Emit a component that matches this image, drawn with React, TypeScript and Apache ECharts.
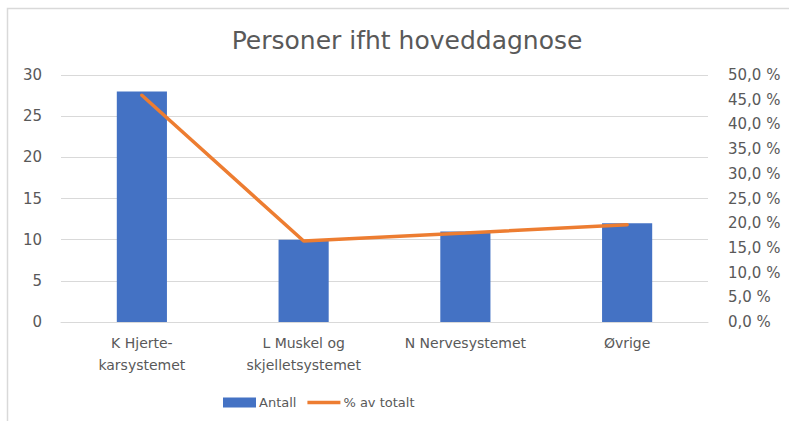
import React, { useEffect, useRef } from "react";
import * as echarts from "echarts";

const categories = ["K Hjerte-\nkarsystemet", "L Muskel og\nskjelletsystemet", "N Nervesystemet", "Øvrige"];
const antall = [28, 10, 11, 12];
const prosent = [45.9, 16.4, 18.0, 19.7];
const leftTicks = { min: 0, max: 30, interval: 5 };
const rightTicks = { min: 0, max: 50, interval: 5 };

export default function App() {
  const ref = useRef<HTMLDivElement>(null);
  useEffect(() => {
    const chart = echarts.init(ref.current!, null, { renderer: "svg" });
    const font = "'DejaVu Sans', sans-serif";
    chart.setOption({
      animation: false,
      backgroundColor: "#ffffff",
      textStyle: { fontFamily: font },
      title: {
        text: "Personer ifht hoveddagnose",
        left: 402,
        top: 23,
        textAlign: "center",
        textStyle: { fontFamily: font, fontSize: 25, fontWeight: "normal", color: "#595959" },
      },
      graphic: [
        {
          type: "rect",
          shape: { x: 7.5, y: 8.5, width: 820, height: 430 },
          style: { fill: "none", stroke: "#d9d9d9", lineWidth: 1.5 },
          silent: true,
          z: -1,
        },
      ],
      legend: {
        left: 218,
        top: 391,
        itemGap: 11,
        itemWidth: 33,
        itemHeight: 10,
        textStyle: { fontFamily: font, fontSize: 13, color: "#595959", padding: [0, 0, 0, -2] },
        data: [
          { name: "Antall", icon: "rect" },
          { name: "% av totalt", icon: "path://M0,0L33,0L33,3.5L0,3.5Z" },
        ],
      },
      grid: { left: 61, right: 81, top: 75, bottom: 99, containLabel: false },
      xAxis: {
        type: "category",
        data: categories,
        axisLine: { show: true, lineStyle: { color: "#d9d9d9", width: 1 } },
        axisTick: { show: false },
        axisLabel: { color: "#595959", fontSize: 14, fontFamily: font, margin: 10, lineHeight: 22, interval: 0 },
      },
      yAxis: [
        {
          type: "value",
          ...leftTicks,
          axisLine: { show: false },
          axisTick: { show: false },
          splitLine: { lineStyle: { color: "#d9d9d9", width: 1 } },
          axisLabel: { color: "#595959", fontSize: 15, fontFamily: font, margin: 19 },
        },
        {
          type: "value",
          ...rightTicks,
          position: "right",
          axisLine: { show: false },
          axisTick: { show: false },
          splitLine: { show: false },
          axisLabel: {
            color: "#595959",
            fontSize: 15,
            fontFamily: font,
            margin: 20,
            formatter: (v: number) => v.toFixed(1).replace(".", ",") + " %",
          },
        },
      ],
      series: [
        {
          name: "Antall",
          type: "bar",
          data: antall,
          barWidth: "31%",
          itemStyle: { color: "#4472C4" },
          yAxisIndex: 0,
        },
        {
          name: "% av totalt",
          type: "line",
          data: prosent,
          yAxisIndex: 1,
          symbol: "none",
          lineStyle: { color: "#ED7D31", width: 3.5, cap: "round" },
          itemStyle: { color: "#ED7D31" },
        },
      ],
    });
    return () => chart.dispose();
  }, []);
  return (
    <div
      ref={ref}
      style={{ position: "fixed", left: 0, top: 0, width: 789, height: 421 }}
    />
  );
}
